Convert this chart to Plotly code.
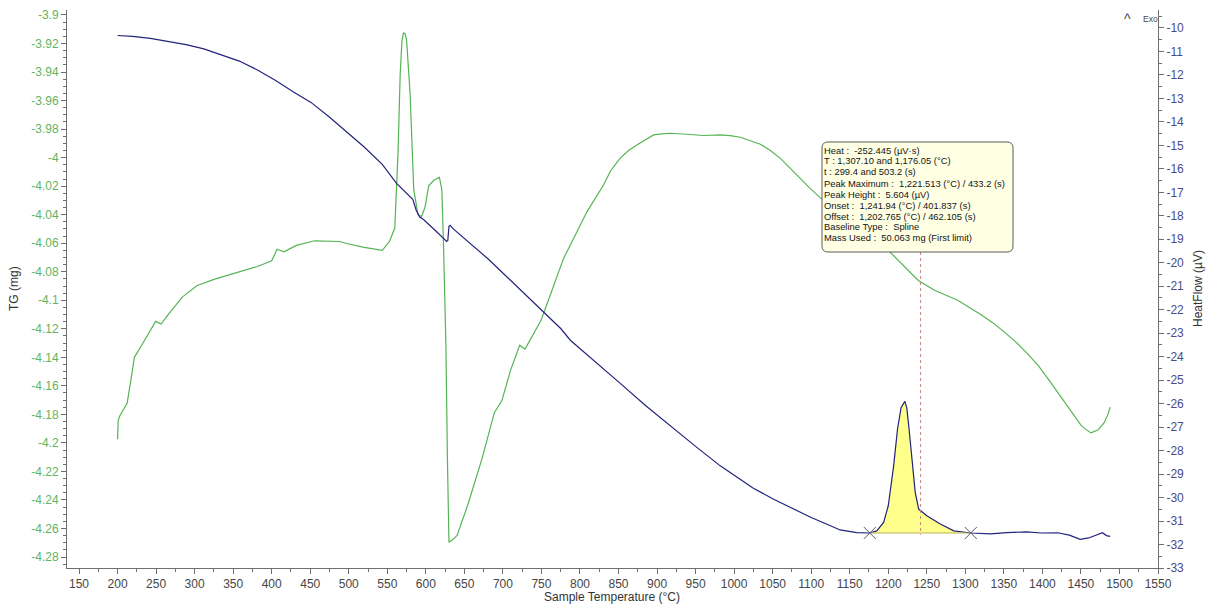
import plotly.graph_objects as go

# Sample temperature (°C) and TG signal (mg)
tg_temp = [200, 200.9, 203, 212.5, 217, 221.8, 233, 242.6, 249.5, 256.5, 265.7, 284, 302.8,
           326, 349, 381.5, 400, 407, 416, 432, 455.6, 488, 497, 520, 543.5, 552.8, 559.7,
           564, 566.7, 569, 571, 573, 575, 579.6, 584.3, 589.8, 594.4, 599, 603.7, 610.6,
           617.6, 620.8, 623, 626, 628, 630, 636, 640.7, 654.6, 673, 689, 698.6, 710, 721.8,
           728.7, 738, 749.5, 761, 778.6, 793.5, 809, 830.5, 840, 852, 863, 873.8, 884,
           895.4, 906, 917, 938.7, 960, 982, 995, 1008, 1021, 1034, 1047, 1060, 1070, 1079,
           1089, 1098.6, 1113, 1150, 1176, 1202, 1239, 1260, 1290, 1320, 1335, 1350, 1365,
           1380, 1395, 1410, 1420, 1430, 1437, 1445, 1450, 1455, 1463, 1472, 1480, 1485, 1488]
tg_mass = [-4.1974, -4.184, -4.181, -4.172, -4.157, -4.140, -4.130, -4.1215, -4.1148, -4.1167,
           -4.110, -4.0978, -4.0898, -4.0852, -4.0817, -4.0763, -4.0723, -4.0642, -4.066,
           -4.0615, -4.0583, -4.0588, -4.0602, -4.0629, -4.065, -4.0588, -4.0494, -3.9956,
           -3.9417, -3.918, -3.9127, -3.913, -3.9175, -3.9552, -4.0225, -4.040, -4.0413,
           -4.0346, -4.0198, -4.0157, -4.0139, -4.0225, -4.0628, -4.1301, -4.2109, -4.2696,
           -4.2674, -4.2647, -4.2432, -4.2109, -4.1786, -4.1705, -4.149, -4.1315, -4.1342,
           -4.1248, -4.114, -4.097, -4.0708, -4.0548, -4.038, -4.0192, -4.009, -4.0005,
           -3.995, -3.9911, -3.9875, -3.9841, -3.9833, -3.9829, -3.9836, -3.9845, -3.9841,
           -3.9846, -3.9857, -3.988, -3.9906, -3.995, -4.0005, -4.006, -4.011, -4.016,
           -4.0216, -4.0287, -4.0406, -4.052, -4.066, -4.0861, -4.093, -4.100, -4.110,
           -4.1155, -4.122, -4.129, -4.137, -4.146, -4.157, -4.1645, -4.172, -4.178, -4.184,
           -4.1875, -4.190, -4.193, -4.191, -4.186, -4.180, -4.175]

# Sample temperature (°C) and heat flow signal (µV)
hf_temp = [200, 219.4, 242.6, 265.7, 288.9, 312, 335, 358, 381.5, 404.6, 427.8, 451, 474,
           497, 520, 543.5, 562, 583, 587.5, 592, 597, 613, 627, 628.5, 630, 631.5, 636, 682,
           729, 775, 787.5, 821, 853, 885, 917, 950, 982, 1000, 1025, 1050, 1075, 1100, 1125,
           1137.5, 1159, 1176.05, 1185, 1194, 1200, 1207, 1212, 1216.6, 1221.513, 1224,
           1226.6, 1231, 1235, 1239.5, 1250, 1267.6, 1285, 1307.1, 1332.6, 1354, 1380, 1398,
           1420, 1435, 1449, 1460, 1470, 1478, 1483, 1488]
hf_signal = [-10.32, -10.36, -10.44, -10.57, -10.71, -10.89, -11.14, -11.41, -11.79, -12.23,
             -12.72, -13.17, -13.77, -14.42, -15.07, -15.81, -16.62, -17.30, -17.76, -18.05,
             -18.16, -18.65, -19.09, -19.05, -18.45, -18.41, -18.57, -19.87, -21.34, -22.8,
             -23.3, -24.27, -25.16, -26.08, -26.95, -27.82, -28.65, -29.05, -29.6, -30.05,
             -30.45, -30.85, -31.2, -31.38, -31.49, -31.51, -31.42, -31.06, -30.35, -28.65,
             -27.09, -26.17, -25.906, -26.17, -26.95, -28.51, -29.78, -30.49, -30.77, -31.13,
             -31.42, -31.51, -31.55, -31.49, -31.46, -31.51, -31.5, -31.6, -31.78, -31.72,
             -31.6, -31.5, -31.62, -31.65]

# Integration limits of the exothermic peak and its onset
peak_limits = [1176.05, 1307.1]
peak_onset = 1241.94

# Axis tick labels
x_ticks = list(range(150, 1551, 50))
tg_ticks = [round(-3.9 - 0.02 * i, 2) for i in range(20)]
hf_ticks = list(range(-10, -34, -1))

peak_info = [
    "Heat :  -252.445 (µV·s)",
    "T : 1,307.10 and 1,176.05 (°C)",
    "t : 299.4 and 503.2 (s)",
    "Peak Maximum :  1,221.513 (°C) / 433.2 (s)",
    "Peak Height :  5.604 (µV)",
    "Onset :  1,241.94 (°C) / 401.837 (s)",
    "Offset :  1,202.765 (°C) / 462.105 (s)",
    "Baseline Type :  Spline",
    "Mass Used :  50.063 mg (First limit)",
]

FONT = "Liberation Sans, Arial, sans-serif"
W, H = 1211, 607
ML, MR, MT, MB = 67, 53, 10, 39
PW, PH = W - ML - MR, H - MT - MB


def px(x):
    return (x - ML) / PW


def py(y):
    return (H - MB - y) / PH


def fmt(v):
    return f"{v:.2f}".rstrip("0").rstrip(".")


fig = go.Figure()

# Integrated peak area between the limits
pk_t = [t for t in hf_temp if peak_limits[0] <= t <= peak_limits[1]]
pk_v = [v for t, v in zip(hf_temp, hf_signal) if peak_limits[0] <= t <= peak_limits[1]]
fig.add_trace(go.Scatter(x=pk_t, y=pk_v, yaxis="y2", mode="lines", fill="toself",
                         fillcolor="rgb(255,255,140)", line=dict(width=0),
                         hoverinfo="skip", showlegend=False))

fig.add_trace(go.Scatter(x=tg_temp, y=tg_mass, mode="lines", name="TG",
                         line=dict(color="rgb(85,180,85)", width=1.2), showlegend=False))

fig.add_trace(go.Scatter(x=hf_temp, y=hf_signal, yaxis="y2", mode="lines", name="HeatFlow",
                         line=dict(color="rgb(35,35,125)", width=1.2), showlegend=False))

# Baseline between the integration limits
base_v = [pk_v[0], pk_v[-1]]
fig.add_trace(go.Scatter(x=[pk_t[0], pk_t[-1]], y=base_v, yaxis="y2", mode="lines",
                         line=dict(color="rgb(185,175,95)", width=1.2),
                         hoverinfo="skip", showlegend=False))
fig.add_trace(go.Scatter(x=[pk_t[0], pk_t[-1]], y=base_v, yaxis="y2", mode="markers",
                         marker=dict(symbol="x-thin", size=12,
                                     line=dict(color="rgb(90,90,110)", width=1)),
                         hoverinfo="skip", showlegend=False))

# Onset marker line from the baseline up to the info box
box_l, box_r, box_t, box_b = 822, 1013, 142, 252
fig.add_shape(type="line", xref="x", yref="paper", x0=peak_onset, x1=peak_onset,
              y0=py(box_b), y1=py(535), line=dict(color="rgb(200,130,130)", width=1, dash="dot"))

# Rounded info box
r = 6
rx, ry = r / PW, r / PH
L, R, T, B = px(box_l), px(box_r), py(box_t), py(box_b)
path = (f"M {L + rx},{T} L {R - rx},{T} Q {R},{T} {R},{T - ry} L {R},{B + ry} "
        f"Q {R},{B} {R - rx},{B} L {L + rx},{B} Q {L},{B} {L},{B + ry} L {L},{T - ry} "
        f"Q {L},{T} {L + rx},{T} Z")
fig.add_shape(type="path", xref="paper", yref="paper", path=path,
              fillcolor="rgb(255,255,228)", line=dict(color="rgb(90,90,90)", width=1))

line_y = [150, 161, 172, 183, 194, 205, 216, 227, 238]
for text, ly in zip(peak_info, line_y):
    fig.add_annotation(xref="paper", yref="paper", x=px(box_l), y=py(ly),
                       xanchor="left", yanchor="middle", showarrow=False,
                       text=text.replace("  ", "\u00a0\u00a0"),
                       font=dict(family=FONT, size=9.4, color="rgb(20,20,20)"))

# Exo direction marker
fig.add_annotation(xref="paper", yref="paper", x=px(1133), y=py(9), showarrow=False,
                   xanchor="right", yanchor="top",
                   text="^", font=dict(family=FONT, size=14, color="rgb(70,70,70)"))
fig.add_annotation(xref="paper", yref="paper", x=px(1141), y=py(12), xanchor="left",
                   yanchor="top", showarrow=False, text="Exo",
                   font=dict(family=FONT, size=8.5, color="rgb(70,70,70)"))

# Axis titles placed as text so the plot area keeps its fixed margins
title_font = dict(family=FONT, size=12, color="rgb(50,50,50)")
fig.add_annotation(xref="paper", yref="paper", x=px(612), y=py(597), showarrow=False,
                   xanchor="center", yanchor="middle",
                   text="Sample Temperature (°C)", font=title_font)
fig.add_annotation(xref="paper", yref="paper", x=px(14), y=py(289), showarrow=False,
                   xanchor="center", yanchor="middle",
                   text="TG (mg)", textangle=-90, font=title_font)
fig.add_annotation(xref="paper", yref="paper", x=px(1198), y=py(289), showarrow=False,
                   xanchor="center", yanchor="middle",
                   text="HeatFlow (µV)", textangle=-90, font=title_font)

axis_col = "rgb(110,110,110)"
fig.update_layout(
    width=W, height=H, autosize=False,
    margin=dict(l=ML, r=MR, t=MT, b=MB, pad=0, autoexpand=False),
    paper_bgcolor="white", plot_bgcolor="white",
    font=dict(family=FONT, size=12, color="rgb(40,40,40)"),
    xaxis=dict(range=[134.4, 1550], tickmode="array", tickvals=x_ticks,
               ticktext=[str(v) for v in x_ticks], ticks="outside", ticklen=5,
               tickcolor=axis_col, showline=True, linecolor=axis_col, linewidth=1,
               showgrid=False, zeroline=False, automargin=False,
               tickfont=dict(family=FONT, size=12, color="rgb(70,70,70)"),
               minor=dict(tick0=150, dtick=25, ticks="outside", ticklen=3,
                          tickcolor=axis_col, showgrid=False)),
    yaxis=dict(range=[-4.2877, -3.8965], tickmode="array", tickvals=tg_ticks,
               ticktext=[fmt(v) for v in tg_ticks], ticks="outside", ticklen=5,
               tickcolor=axis_col, showline=True, linecolor=axis_col, linewidth=1,
               showgrid=False, zeroline=False, automargin=False,
               tickfont=dict(family=FONT, size=12, color="rgb(95,180,95)"),
               minor=dict(tick0=-3.9, dtick=0.005, ticks="outside", ticklen=3,
                          tickcolor=axis_col, showgrid=False)),
    yaxis2=dict(range=[-33, -9.235], overlaying="y", side="right", anchor="x",
                tickmode="array", tickvals=hf_ticks, ticktext=[str(v) for v in hf_ticks],
                ticks="outside", ticklen=5, tickcolor=axis_col, showline=True,
                linecolor=axis_col, linewidth=1, showgrid=False, zeroline=False,
                automargin=False,
                tickfont=dict(family=FONT, size=12, color="rgb(75,75,135)"),
                minor=dict(tick0=-10, dtick=0.5, ticks="outside", ticklen=3,
                           tickcolor=axis_col, showgrid=False)),
)

fig.write_html("out.html")
